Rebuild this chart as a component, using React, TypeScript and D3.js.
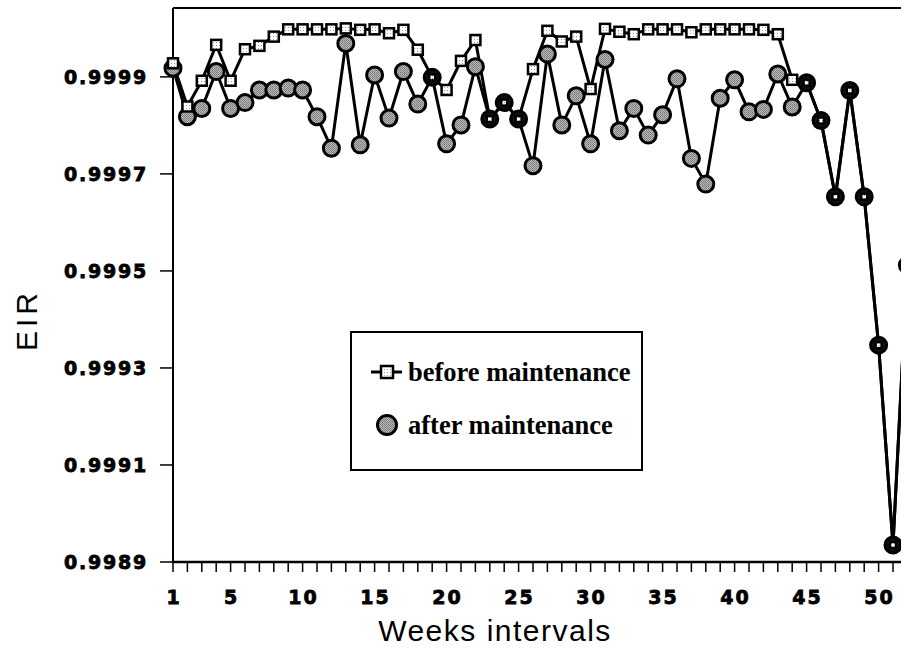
import React from "react";
import * as d3 from "d3";

// weekly EIR
const weeks = d3.range(1, 53);
const beforeMaint = [
  0.999928, 0.999839, 0.999892, 0.999966, 0.999892, 0.999957, 0.999964, 0.999983, 0.999998, 0.999998,
  0.999998, 0.999998, 1.0, 0.999997, 0.999998, 0.99999, 0.999997, 0.999956, 0.999899, 0.999873,
  0.999933, 0.999976, 0.999813, 0.999847, 0.999813, 0.999916, 0.999995, 0.999973, 0.999983, 0.999875,
  0.999999, 0.999993, 0.999988, 0.999998, 0.999998, 0.999998, 0.999992, 0.999998, 0.999998, 0.999998,
  0.999998, 0.999997, 0.999988, 0.999894, 0.999888, 0.99981, 0.999653, 0.999872, 0.999653, 0.999347,
  0.998935, 0.999512,
];
const afterMaint = [
  0.999918, 0.999818, 0.999835, 0.999911, 0.999835, 0.999847, 0.999873, 0.999873, 0.999877, 0.999873,
  0.999818, 0.999753, 0.999969, 0.99976, 0.999904, 0.999815, 0.999911, 0.999844, 0.999899, 0.999762,
  0.999801, 0.999921, 0.999813, 0.999847, 0.999813, 0.999717, 0.999947, 0.999801, 0.999861, 0.999762,
  0.999936, 0.999789, 0.999835, 0.99978, 0.999822, 0.999896, 0.999732, 0.999679, 0.999856, 0.999894,
  0.999828, 0.999833, 0.999906, 0.999838, 0.999888, 0.99981, 0.999653, 0.999872, 0.999653, 0.999347,
  0.998935, 0.999512,
];
const yTicks = [0.9989, 0.9991, 0.9993, 0.9995, 0.9997, 0.9999];
const xLabels = [1, 5, 10, 15, 20, 25, 30, 35, 40, 45, 50];
const seriesNames = ["before maintenance", "after maintenance"];

const W = 901;
const H = 660;

const x = d3.scaleLinear().domain([1, 51]).range([173, 893]);
const y = d3.scaleLinear().domain([0.9989, 1.000042]).range([562, 8]);

const line = d3
  .line<number>()
  .x((d, i) => x(weeks[i]))
  .y(d => y(d));

const tickFont = {
  fontFamily: "'DejaVu Sans', sans-serif",
  fontWeight: 700,
  fontSize: 19,
  letterSpacing: 1.8,
  stroke: "#000",
  strokeWidth: 0.8,
};

const Square = ({ cx, cy, s = 10 }: { cx: number; cy: number; s?: number }) => (
  <rect x={cx - s / 2} y={cy - s / 2} width={s} height={s} fill="url(#grid)" stroke="#000" strokeWidth={2.5} />
);

const Dot = ({ cx, cy, r = 8, dark = false }: { cx: number; cy: number; r?: number; dark?: boolean }) => (
  <circle cx={cx} cy={cy} r={r} fill={dark ? "#111" : "url(#stipple)"} stroke="#000" strokeWidth={3} />
);

export default function App() {
  const plotRight = 930;
  return (
    <svg
      width={W}
      height={H}
      style={{ position: "absolute", left: 0, top: 0, background: "#fff" }}
    >
      <defs>
        <pattern id="grid" width="3" height="3" patternUnits="userSpaceOnUse">
          <rect width="3" height="3" fill="#fff" />
          <rect width="1" height="1" fill="#999" />
        </pattern>
        <pattern id="stipple" width="2" height="2" patternUnits="userSpaceOnUse">
          <rect width="2" height="2" fill="#b8b8b8" />
          <rect width="1" height="1" fill="#777" />
          <rect x="1" y="1" width="1" height="1" fill="#888" />
        </pattern>
      </defs>

      {/* frame */}
      <line x1={x(1)} x2={plotRight} y1={8} y2={8} stroke="#000" strokeWidth={2} />
      <line x1={x(1)} x2={x(1)} y1={8} y2={563} stroke="#000" strokeWidth={2} />
      <line x1={x(1)} x2={plotRight} y1={y(0.9989)} y2={y(0.9989)} stroke="#000" strokeWidth={2.5} />

      {/* y axis */}
      {yTicks.map(t => (
        <g key={t}>
          <line x1={x(1) - 13} x2={x(1)} y1={y(t)} y2={y(t)} stroke="#000" strokeWidth={1.5} />
          <text x={148} y={y(t)} dy="0.36em" textAnchor="end" style={tickFont}>
            {t.toFixed(4)}
          </text>
        </g>
      ))}

      {/* x axis */}
      {weeks.map(w => (
        <line key={w} x1={x(w)} x2={x(w)} y1={562} y2={572} stroke="#000" strokeWidth={1.5} />
      ))}
      {xLabels.map(w => (
        <text key={w} x={x(w) + 1} y={604} textAnchor="middle" style={{ ...tickFont, letterSpacing: 2 }}>
          {w}
        </text>
      ))}

      <text
        x={495}
        y={641}
        textAnchor="middle"
        style={{ fontFamily: "'Liberation Sans', Arial, sans-serif", fontSize: 30, letterSpacing: 1.5 }}
      >
        Weeks intervals
      </text>
      <text
        transform="translate(37,320) rotate(-90)"
        textAnchor="middle"
        style={{ fontFamily: "'Liberation Sans', Arial, sans-serif", fontSize: 30, letterSpacing: 4 }}
      >
        EIR
      </text>

      {/* series */}
      <path d={line(afterMaint) || ""} fill="none" stroke="#000" strokeWidth={3} strokeLinejoin="round" />
      <path d={line(beforeMaint) || ""} fill="none" stroke="#000" strokeWidth={3} strokeLinejoin="round" />
      {afterMaint.map((v, i) => (
        <Dot key={"a" + i} cx={x(weeks[i])} cy={y(v)} dark={v === beforeMaint[i]} />
      ))}
      {beforeMaint.map((v, i) => (
        <Square key={"b" + i} cx={x(weeks[i])} cy={y(v)} s={v === afterMaint[i] ? 6 : 10} />
      ))}

      {/* legend */}
      <rect x={351} y={332} width={291} height={138} fill="#fff" stroke="#000" strokeWidth={2} />
      <line x1={371} x2={402} y1={372} y2={372} stroke="#000" strokeWidth={3} />
      <Square cx={387} cy={372} s={12} />
      <Dot cx={387} cy={425} r={9.5} />
      {seriesNames.map((n, i) => (
        <text
          key={n}
          x={408}
          y={381 + i * 53}
          style={{ fontFamily: "'Liberation Serif', 'Times New Roman', serif", fontWeight: 700, fontSize: 26.5 }}
        >
          {n}
        </text>
      ))}
    </svg>
  );
}
